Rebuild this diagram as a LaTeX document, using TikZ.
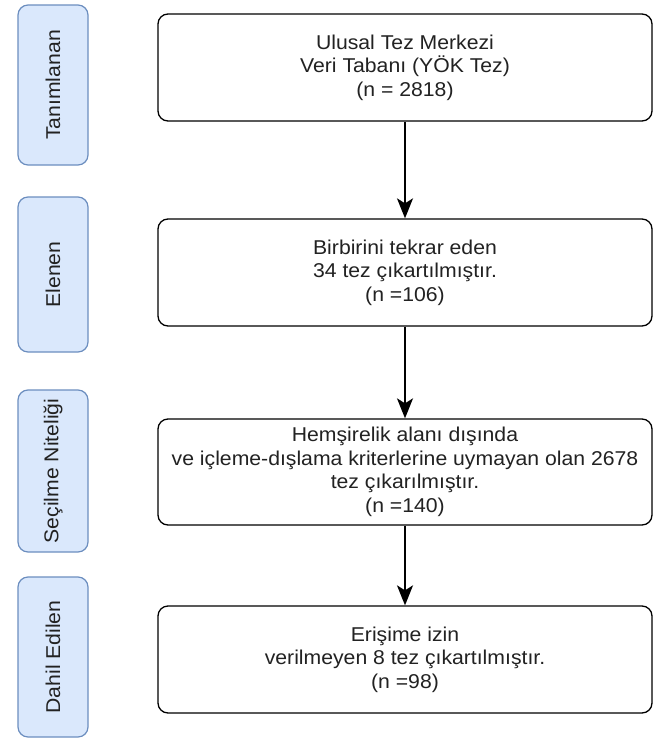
\documentclass[tikz,border=0pt]{standalone}
\usepackage{fontspec}
\setmainfont[FakeStretch=1.06]{Liberation Sans}
\usetikzlibrary{arrows.meta}
\definecolor{sideFill}{HTML}{DAE8FC}
\definecolor{sideDraw}{HTML}{6C8EBF}
\definecolor{txt}{HTML}{222222}
\tikzset{
  mainbox/.style={draw=black, line width=1.3pt, rounded corners=10pt, fill=white,
    minimum width=494pt, minimum height=107pt, inner sep=0pt},
  sidebox/.style={draw=sideDraw, line width=1.2pt, rounded corners=10pt, fill=sideFill,
    rotate=90, minimum height=70pt, inner sep=0pt},
  boxtext/.style={align=center, font=\fontsize{20}{23.5}\selectfont, text=txt},
  flow/.style={line width=1.8pt, -{Stealth[length=20pt,width=16pt,inset=5pt]}}
}
\begin{document}
\begin{tikzpicture}[x=1pt,y=-1pt]
\useasboundingbox (0,0) rectangle (663,742);
% side labels
\node[sidebox, boxtext, minimum width=160pt] (s1) at (53,85) {Tanımlanan};
\node[sidebox, boxtext, minimum width=155pt] (s2) at (53,274.5) {Elenen};
\node[sidebox, boxtext, minimum width=162pt] (s3) at (53,471) {Seçilme Niteliği};
\node[sidebox, boxtext, minimum width=160pt] (s4) at (53,657) {Dahil Edilen};
% main boxes
\node[mainbox, boxtext] (b1) at (405,67.5) {Ulusal Tez Merkezi\\Veri Tabanı (YÖK Tez)\\(n = 2818)};
\node[mainbox, boxtext] (b2) at (405,272.5) {Birbirini tekrar eden\\34 tez çıkartılmıştır.\\(n =106)};
\node[mainbox, boxtext, minimum height=106pt] (b3) at (405,472) {Hemşirelik alanı dışında\\ve içleme-dışlama kriterlerine uymayan olan 2678\\tez çıkarılmıştır.\\(n =140)};
\node[mainbox, boxtext] (b4) at (405,659.5) {Erişime izin\\verilmeyen 8 tez çıkartılmıştır.\\(n =98)};
% connectors
\draw[flow] (b1.south) -- (b2.north);
\draw[flow] (b2.south) -- (b3.north);
\draw[flow] (b3.south) -- (b4.north);
\end{tikzpicture}
\end{document}
